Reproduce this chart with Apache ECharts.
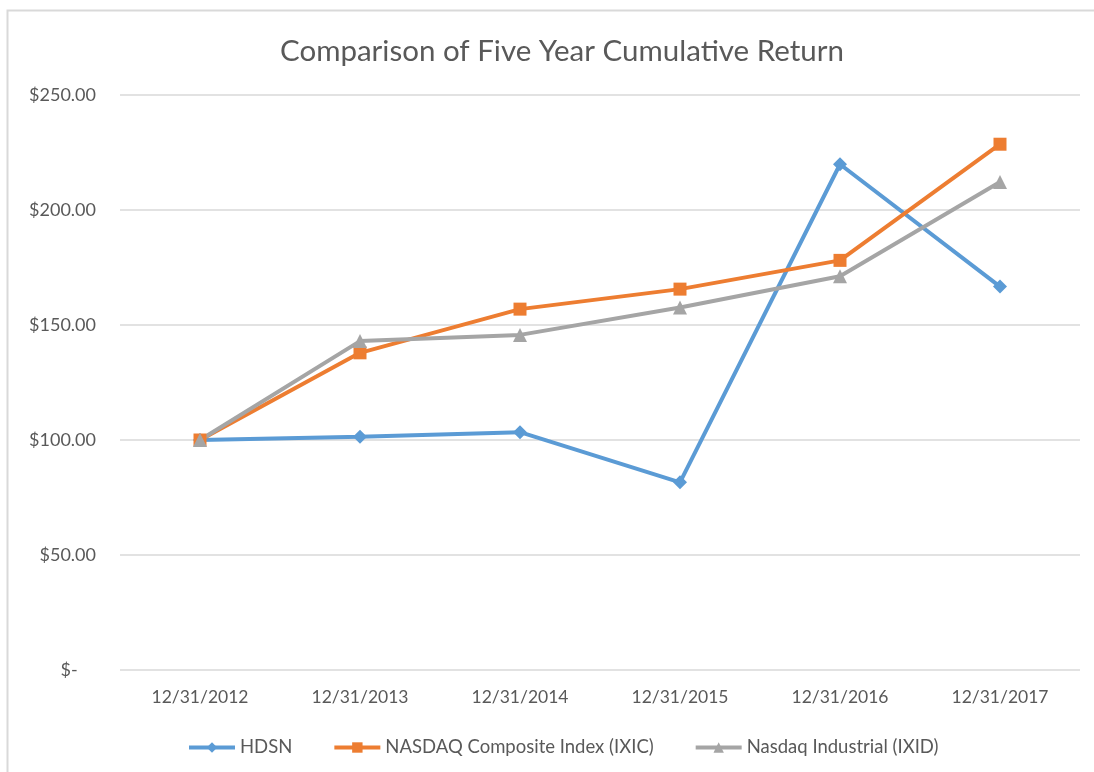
<!DOCTYPE html>
<html>
<head>
<meta charset="utf-8">
<script src="https://cdn.jsdelivr.net/npm/echarts@6/dist/echarts.min.js"></script>
<style>html,body{margin:0;padding:0;background:#fff;}#c{width:1094px;height:772px;}</style>
</head>
<body>
<div id="c"></div>
<script>
var categories = ['12/31/2012','12/31/2013','12/31/2014','12/31/2015','12/31/2016','12/31/2017'];
var hdsn = [100, 101.4, 103.4, 81.6, 219.9, 166.7];
var nasdaqComposite = [100, 137.9, 156.9, 165.6, 178.1, 228.6];
var nasdaqIndustrial = [100, 143.0, 145.7, 157.6, 171.2, 212.2];
var seriesNames = ['HDSN', 'NASDAQ Composite Index (IXIC)', 'Nasdaq Industrial (IXID)'];

var font = 'Lato, "Open Sans", sans-serif';
var txt = '#595959';
var chart = echarts.init(document.getElementById('c'), null, {renderer: 'canvas'});
function mk(name, data, color, symbol, size) {
  return {
    name: name, type: 'line', data: data,
    symbol: symbol, symbolSize: size, showSymbol: true,
    lineStyle: {color: color, width: 4},
    itemStyle: {color: color},
    emphasis: {disabled: true},
    animation: false
  };
}
chart.setOption({
  backgroundColor: '#fff',
  animation: false,
  color: ['#5B9BD5', '#ED7D31', '#A5A5A5'],
  graphic: [{
    type: 'rect', shape: {x: 7.5, y: 10.5, width: 1100, height: 800},
    style: {fill: 'none', stroke: '#D9D9D9', lineWidth: 2}, silent: true, z: -1
  }],
  title: {
    text: 'Comparison of Five Year Cumulative Return',
    left: 275, top: 31,
    textStyle: {fontFamily: font, fontSize: 29.5, fontWeight: 'normal', color: txt}
  },
  legend: {
    top: 733, left: 182, itemWidth: 46, itemHeight: 13, itemGap: 40,
    lineStyle: {width: 4},
    textStyle: {fontFamily: font, fontSize: 18.5, color: txt},
    data: seriesNames
  },
  grid: {left: 120, right: 14, top: 95, bottom: 102, containLabel: false},
  xAxis: {
    type: 'category', data: categories, boundaryGap: true,
    axisLine: {show: false}, axisTick: {show: false},
    axisLabel: {fontFamily: font, fontSize: 17.5, color: txt, margin: 18}
  },
  yAxis: {
    type: 'value', min: 0, max: 250, interval: 50,
    axisLine: {show: false}, axisTick: {show: false},
    splitLine: {lineStyle: {color: '#D9D9D9', width: 1.5}},
    axisLabel: {
      fontFamily: font, fontSize: 18, color: txt, margin: 24,
      formatter: function (v) { return v === 0 ? '$-    ' : '$' + v.toFixed(2); }
    }
  },
  series: [
    mk(seriesNames[0], hdsn, '#5B9BD5', 'diamond', 14),
    mk(seriesNames[1], nasdaqComposite, '#ED7D31', 'rect', 13),
    mk(seriesNames[2], nasdaqIndustrial, '#A5A5A5', 'triangle', 14)
  ]
});
</script>
</body>
</html>
